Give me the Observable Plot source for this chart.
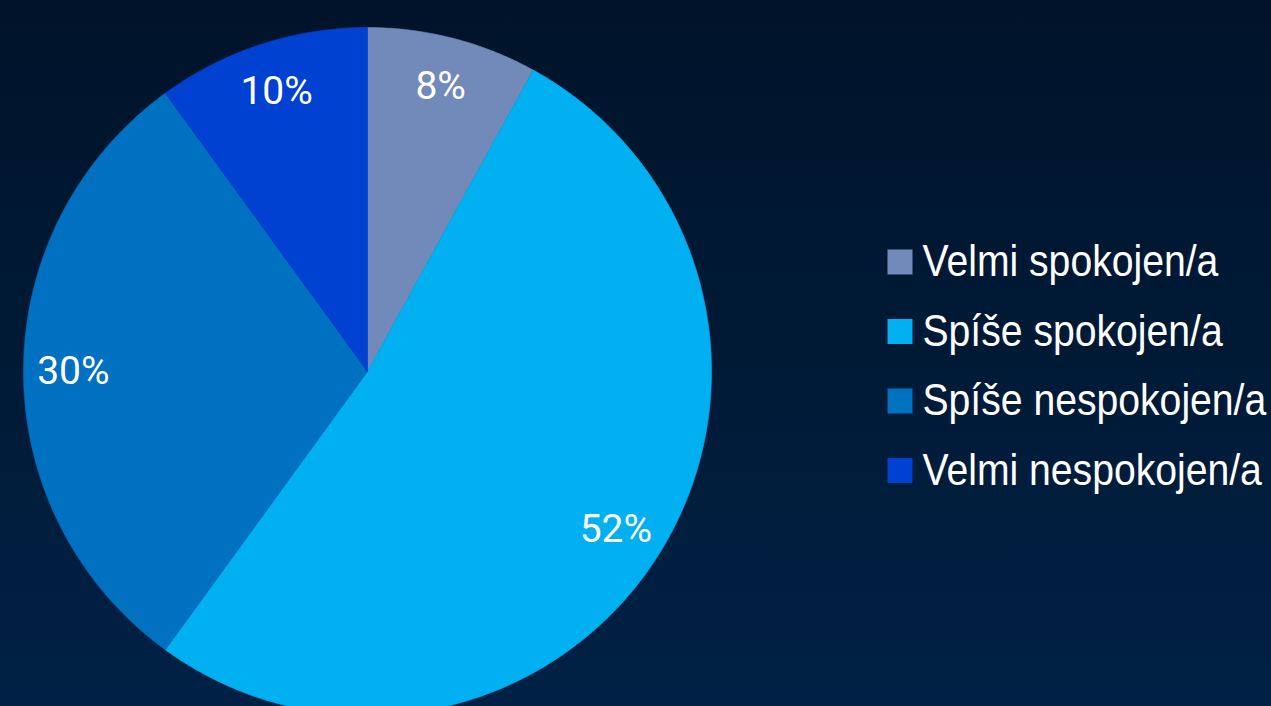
<!DOCTYPE html>
<html>
<head>
<meta charset="utf-8">
<script src="https://cdn.jsdelivr.net/npm/d3@7"></script>
<script src="https://cdn.jsdelivr.net/npm/@observablehq/plot@0.6"></script>
<style>
  html, body { margin: 0; padding: 0; background: #001a36; overflow: hidden; }
</style>
</head>
<body>
<div id="chart"></div>
<script>
// ---- data ----
const categories = ["Velmi spokojen/a", "Spíše spokojen/a", "Spíše nespokojen/a", "Velmi nespokojen/a"];
const values = [8, 52, 30, 10];
const labels = ["8%", "52%", "30%", "10%"];
const colors = ["#718AB9", "#00B0F0", "#0070C0", "#0041D1"];

// ---- layout ----
const W = 1271, H = 706;
const cx = 367, cy = 371, R = 344, labelR = 0.855 * R;
const legendX = 899.5, legendTextX = 922, legendY0 = 261.5, legendStep = 69.5;

const pie = d3.pie().sort(null).value(d => d)(values);

// polygon points for each slice (angles from 12 o'clock, clockwise)
const slices = pie.map((p, i) => {
  const pts = [{x: cx, y: cy}];
  const n = Math.max(2, Math.ceil((p.endAngle - p.startAngle) / (Math.PI / 360)));
  for (let j = 0; j <= n; j++) {
    const a = p.startAngle + (p.endAngle - p.startAngle) * j / n;
    pts.push({x: cx + R * Math.sin(a), y: cy - R * Math.cos(a)});
  }
  pts.push({x: cx, y: cy});
  return pts;
});

const labelData = pie.map((p, i) => {
  const a = (p.startAngle + p.endAngle) / 2;
  return {x: cx + labelR * Math.sin(a), y: cy - labelR * Math.cos(a), text: labels[i]};
});

const legendData = categories.map((c, i) => ({
  x: legendX, tx: legendTextX, y: legendY0 + i * legendStep, name: c, color: colors[i]
}));

const plot = Plot.plot({
  width: W,
  height: H,
  margin: 0,
  x: {domain: [0, W], range: [0, W], axis: null},
  y: {domain: [0, H], range: [0, H], axis: null},
  style: {
    background: "linear-gradient(to bottom, #00132a 0%, #001a36 50%, #002145 100%)",
    color: "white"
  },
  marks: [
    ...slices.map((pts, i) => Plot.line(pts, {
      x: "x", y: "y", fill: colors[i], stroke: colors[i], strokeWidth: 0.6, curve: "linear"
    })),
    Plot.text(labelData, {
      x: "x", y: "y", text: "text", fill: "white",
      fontSize: 39, fontFamily: "Roboto, 'Liberation Sans', sans-serif",
      textAnchor: "middle", lineAnchor: "middle"
    }),
    Plot.dot(legendData, {
      x: "x", y: "y", symbol: "square", r: 14.1, fill: "color", stroke: null
    }),
    Plot.text(legendData, {
      x: "tx", y: "y", text: "name", fill: "white",
      fontSize: 45, fontFamily: "'Liberation Sans', Arial, sans-serif",
      textAnchor: "start", lineAnchor: "middle"
    })
  ]
});

// condense legend text horizontally (Arial-Narrow-like look of the reference)
plot.querySelectorAll("text").forEach(t => {
  if (!categories.includes(t.textContent)) return;
  let x = 0, y = 0;
  const tr = t.getAttribute("transform");
  const m = tr && tr.match(/translate\(\s*([-\d.e]+)[ ,]+([-\d.e]+)\s*\)/);
  if (m) { x = +m[1]; y = +m[2]; }
  if (t.hasAttribute("x")) { x += +t.getAttribute("x"); t.removeAttribute("x"); }
  const yAttr = t.getAttribute("y");
  if (yAttr && !/em$/.test(yAttr)) { y += +yAttr; t.removeAttribute("y"); }
  t.setAttribute("transform", `translate(${x},${y}) scale(0.87,1)`);
});

document.getElementById("chart").appendChild(plot);
</script>
</body>
</html>
